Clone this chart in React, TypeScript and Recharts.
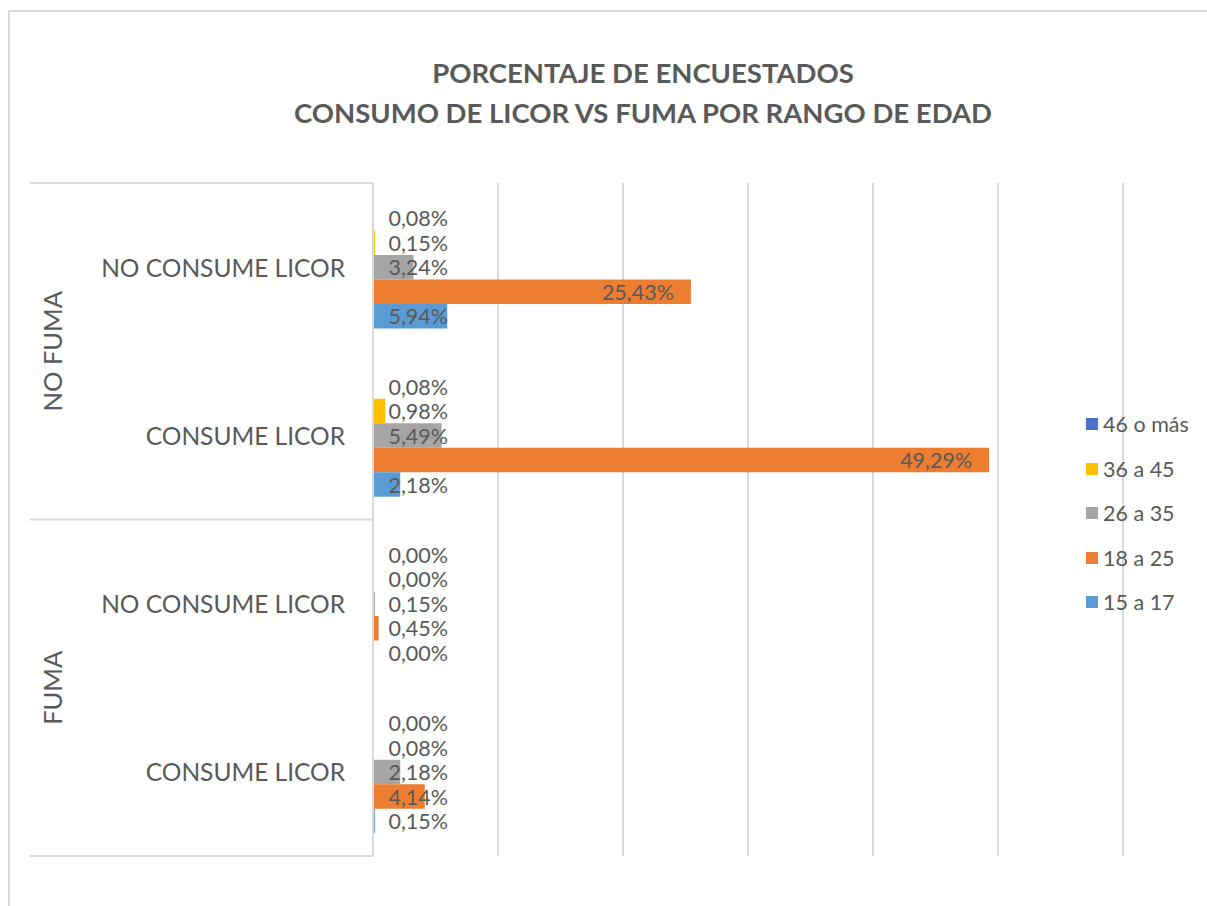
import { Bar, BarChart, CartesianGrid, LabelList, Legend, XAxis, YAxis } from "recharts"

const groups = ["NO FUMA", "NO FUMA", "FUMA", "FUMA"]
const subCategories = ["NO CONSUME LICOR", "CONSUME LICOR", "NO CONSUME LICOR", "CONSUME LICOR"]

const age15to17 = [5.94, 2.18, 0.0, 0.15]
const age18to25 = [25.43, 49.29, 0.45, 4.14]
const age26to35 = [3.24, 5.49, 0.15, 2.18]
const age36to45 = [0.15, 0.98, 0.0, 0.08]
const age46plus = [0.08, 0.08, 0.0, 0.0]

const xTicks = [0, 10, 20, 30, 40, 50, 60]

const series = [
  { key: "a46", name: "46 o más", color: "#4472C4" },
  { key: "a36", name: "36 a 45", color: "#FFC000" },
  { key: "a26", name: "26 a 35", color: "#A5A5A5" },
  { key: "a18", name: "18 a 25", color: "#ED7D31" },
  { key: "a15", name: "15 a 17", color: "#5B9BD5" },
]

const data = subCategories.map((sub, i) => ({
  sub,
  group: groups[i],
  a15: age15to17[i],
  a18: age18to25[i],
  a26: age26to35[i],
  a36: age36to45[i],
  a46: age46plus[i],
}))

const W = 1207
const H = 906
const TOP = 183
const BOTTOM = 856
const LEFT = 30
const AXIS_W = 343
const RIGHT = 1123
const BAND = (BOTTOM - TOP) / subCategories.length
const TEXT = "#595959"
const LINE = "#d9d9d9"
const FONT = "Lato, 'Open Sans', sans-serif"

const fmt = (v: number) => Number(v).toFixed(2).replace(".", ",") + "%"

// zero bars still need their "0,00%" label, so give them a hairline width
const zeroSize = (v: any) => (Number(v) === 0 ? 0.01 : 0)

const BarLabel = (props: any) => {
  const { x, y, width, height, value } = props
  const tx = Math.max(x + width - 17, x + 75)
  return (
    <text x={tx} y={y + height / 2} textAnchor="end" dominantBaseline="central"
      fill={TEXT} fontSize={21.5} fontFamily={FONT}>
      {fmt(value)}
    </text>
  )
}

const CategoryTick = (props: any) => {
  const { y, payload, index } = props
  const axisX = LEFT + AXIS_W
  const first = index === 0 || data[index - 1].group !== data[index].group
  const last = index === data.length - 1
  return (
    <g>
      <text x={axisX - 28} y={y} textAnchor="end" dominantBaseline="central"
        fill={TEXT} fontSize={24.5} fontFamily={FONT}>
        {payload.value}
      </text>
      {first && (
        <>
          <line x1={LEFT} x2={axisX} y1={y - BAND / 2} y2={y - BAND / 2} stroke={LINE} strokeWidth={2} />
          <text x={52} y={y + BAND / 2} transform={`rotate(-90 52 ${y + BAND / 2})`}
            textAnchor="middle" dominantBaseline="central" fill={TEXT} fontSize={25.5} fontFamily={FONT}>
            {data[index].group}
          </text>
        </>
      )}
      {last && <line x1={LEFT} x2={axisX} y1={y + BAND / 2} y2={y + BAND / 2} stroke={LINE} strokeWidth={2} />}
    </g>
  )
}

const LegendContent = () => (
  <div style={{ fontFamily: FONT, color: TEXT, fontSize: 21.5 }}>
    {series.map((s) => (
      <div key={s.key} style={{ display: "flex", alignItems: "center", height: 44.5 }}>
        <span style={{ width: 12, height: 12, background: s.color, marginRight: 5, display: "inline-block" }} />
        <span>{s.name}</span>
      </div>
    ))}
  </div>
)

export default function App() {
  return (
    <div style={{ position: "absolute", left: 0, top: 0, width: W, height: H, overflow: "hidden", background: "#fff" }}>
      <div style={{ position: "absolute", left: 8, top: 10, width: W + 50, height: H + 50, border: `2px solid ${LINE}`, boxSizing: "border-box" }} />
      <div style={{ position: "absolute", left: 143, top: 53, width: 1000, textAlign: "center", fontFamily: FONT, fontWeight: 700, fontSize: 27.5, color: TEXT, lineHeight: "40px" }}>
        <div>PORCENTAJE DE ENCUESTADOS</div>
        <div>CONSUMO DE LICOR VS FUMA POR RANGO DE EDAD</div>
      </div>
      <div style={{ position: "absolute", left: 0, top: 0 }}>
        <BarChart width={W} height={H} data={data} layout="vertical"
          margin={{ top: TOP, bottom: H - BOTTOM, left: LEFT, right: W - RIGHT }}
          barSize={24.5} barGap={0}>
          <CartesianGrid horizontal={false} stroke={LINE} strokeWidth={2} />
          <XAxis type="number" domain={[0, 60]} ticks={xTicks} hide />
          <YAxis type="category" dataKey="sub" width={AXIS_W} tickLine={false}
            axisLine={{ stroke: LINE, strokeWidth: 2 }} tick={<CategoryTick />} interval={0} />
          <Legend layout="vertical" align="center" verticalAlign="middle" content={<LegendContent />}
            wrapperStyle={{ left: 1086, top: 402, width: 121 }} />
          {series.map((s) => (
            <Bar key={s.key} dataKey={s.key} name={s.name} fill={s.color} minPointSize={zeroSize} isAnimationActive={false}>
              <LabelList dataKey={s.key} content={<BarLabel />} />
            </Bar>
          ))}
        </BarChart>
      </div>
    </div>
  )
}
